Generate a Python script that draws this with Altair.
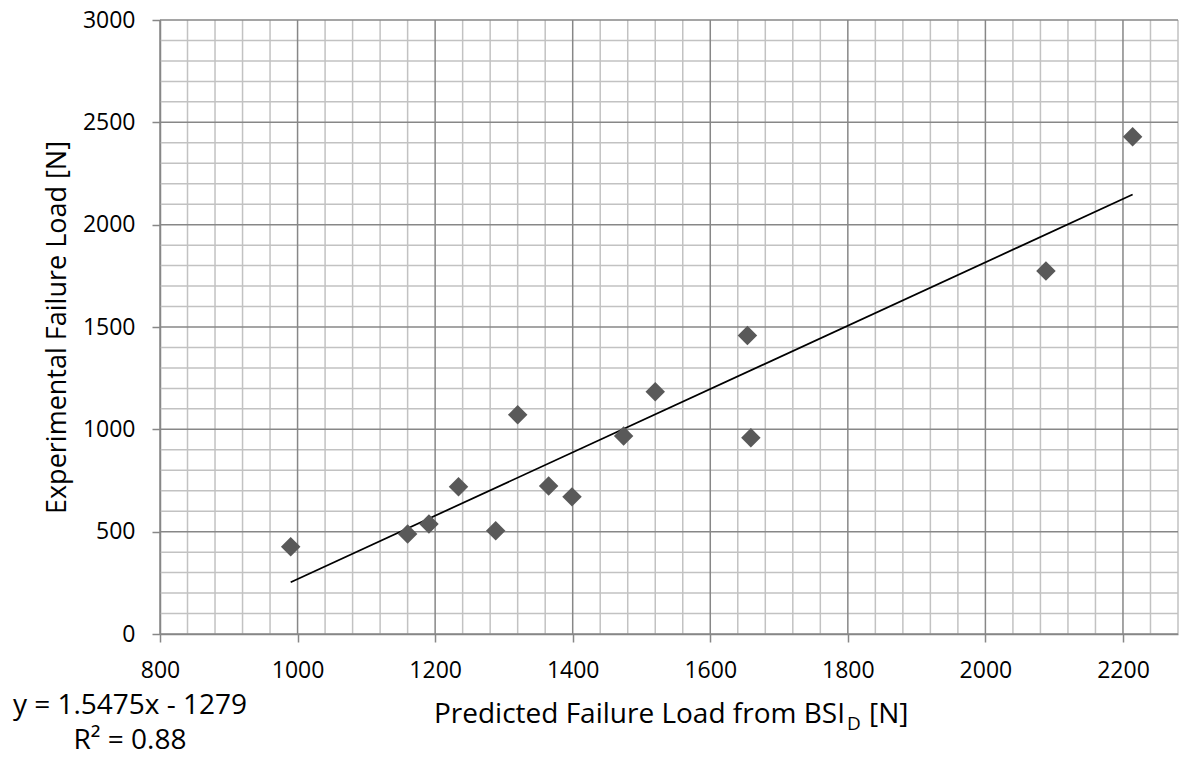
import altair as alt
import pandas as pd

# Data
predicted = [990, 1160, 1191, 1234, 1288, 1320, 1365, 1399, 1474, 1520, 1654, 1659, 2088, 2214]
experimental = [426, 489, 538, 719, 505, 1071, 723, 670, 968, 1184, 1458, 959, 1774, 2429]

# Trendline as given on the chart
slope = 1.5475
intercept = -1279
trend_x = [990, 2214]

x_ticks = [800, 1000, 1200, 1400, 1600, 1800, 2000, 2200]
y_ticks = [0, 500, 1000, 1500, 2000, 2500, 3000]
x_minor = [v for v in range(800, 2281, 40) if v % 200]
y_minor = [v for v in range(0, 3001, 100) if v % 500]

W, H = 1018, 614
FONT = "Open Sans"
MAJOR = "#878787"
MINOR = "#c2c2c2"

xs = alt.Scale(domain=[800, 2280], nice=False, zero=False)
ys = alt.Scale(domain=[0, 3000], nice=False, zero=False)

x_axis = alt.Axis(values=x_ticks, format="d", title=None, grid=False, tickSize=8, tickColor=MAJOR,
                  tickWidth=1.5, domainColor=MAJOR, domainWidth=1.5, labelFont=FONT,
                  labelFontSize=23, labelColor="black", labelPadding=17, labelFlush=False,
                  labelOverlap=False)
y_axis = alt.Axis(values=y_ticks, format="d", title="Experimental Failure Load [N]", titleFont=FONT,
                  titleFontSize=27, titleFontWeight="normal", titleColor="black",
                  titleX=-95, titleY=H / 2, titleAngle=270, titleBaseline="alphabetic",
                  titleAlign="center", grid=False, tickSize=8, tickColor=MAJOR, tickWidth=1.5,
                  domainColor=MAJOR, domainWidth=1.5, labelFont=FONT, labelFontSize=23,
                  labelColor="black", labelPadding=17, labelFlush=False, labelOverlap=False)

minor_x = alt.Chart(pd.DataFrame({"xv": x_minor})).mark_rule(color=MINOR, strokeWidth=1.5).encode(
    x=alt.X("xv:Q", scale=xs, axis=x_axis))
minor_y = alt.Chart(pd.DataFrame({"yv": y_minor})).mark_rule(color=MINOR, strokeWidth=1.5).encode(
    y=alt.Y("yv:Q", scale=ys, axis=y_axis))
major_x = alt.Chart(pd.DataFrame({"xv": x_ticks})).mark_rule(color=MAJOR, strokeWidth=1.5).encode(
    x=alt.X("xv:Q", scale=xs, axis=x_axis))
major_y = alt.Chart(pd.DataFrame({"yv": y_ticks})).mark_rule(color=MAJOR, strokeWidth=1.5).encode(
    y=alt.Y("yv:Q", scale=ys, axis=y_axis))

trend_df = pd.DataFrame({"xv": trend_x, "yv": [slope * v + intercept for v in trend_x]})
trend = alt.Chart(trend_df).mark_line(color="black", strokeWidth=1.75).encode(
    x=alt.X("xv:Q", scale=xs, axis=x_axis),
    y=alt.Y("yv:Q", scale=ys, axis=y_axis))

pts_df = pd.DataFrame({"xv": predicted, "yv": experimental})
points = alt.Chart(pts_df).mark_point(shape="diamond", filled=True, size=380, color="#595959",
                                      opacity=1).encode(
    x=alt.X("xv:Q", scale=xs, axis=x_axis),
    y=alt.Y("yv:Q", scale=ys, axis=y_axis))

one = pd.DataFrame({"k": [0]})


def label(text, x, y, size, align="center"):
    return alt.Chart(one).mark_text(text=text, font=FONT, fontSize=size, color="black",
                                    align=align, baseline="alphabetic").encode(
        x=alt.value(x), y=alt.value(y))


eq = label("y = 1.5475x - 1279", -30, 694, 28)
r2 = label("R\u00b2 = 0.88", -30, 729, 28)
xt1 = label("Predicted Failure Load from BSI", 685, 703, 28, "right")
xt2 = label("D", 687, 710, 19, "left")
xt3 = label("[N]", 709, 703, 28, "left")

chart = alt.layer(minor_x, minor_y, major_x, major_y, trend, points, eq, r2, xt1, xt2, xt3).properties(
    width=W, height=H,
    autosize=alt.AutoSizeParams(type="none"),
    padding={"left": 152, "top": 12, "right": 2, "bottom": 122},
).configure_view(stroke=None)

chart.save("out.html", embed_options={"renderer": "svg", "actions": False})
